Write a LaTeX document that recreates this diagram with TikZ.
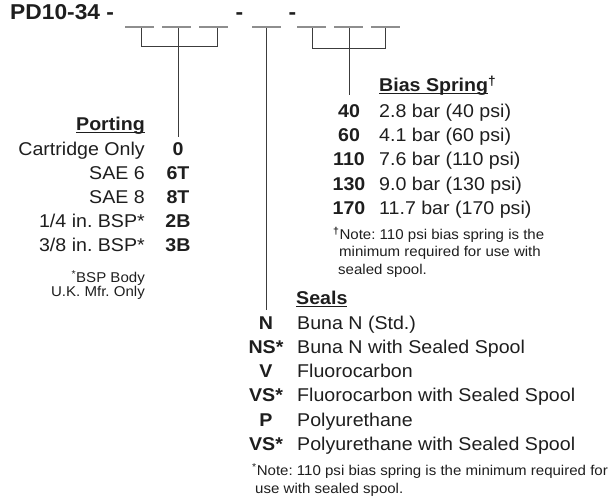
\documentclass[tikz,border=0pt]{standalone}
\usepackage{fontspec}
\setmainfont[FakeStretch=1.06]{Liberation Sans}
\usetikzlibrary{positioning}
\definecolor{blankgray}{HTML}{8E8E8E}
\definecolor{leadgray}{HTML}{3C3C3C}
\definecolor{inkgray}{HTML}{1E1E1E}
\newcommand{\hdul}[1]{\setbox0\hbox{#1}\rlap{\copy0}\rule[-2.6pt]{\wd0}{1pt}}
\frenchspacing

\begin{document}
\begin{tikzpicture}[x=1pt,y=-1pt]

\tikzset{
codeitem/.style={
inner sep=0pt,
anchor=mid,
text=inkgray,
font=\fontsize{18.5}{21}\selectfont\bfseries
},
descitem/.style={
inner sep=0pt,
anchor=mid west,
text=inkgray,
font=\fontsize{18.5}{21}\selectfont
},
headlabel/.style={
descitem,
font=\fontsize{18.5}{21}\selectfont\bfseries
},
notelabel/.style={
inner sep=0pt,
anchor=mid west,
text=inkgray,
font=\fontsize{14.2}{16}\selectfont
},
blankline/.style={
draw=blankgray,
line width=1.2pt
},
leadline/.style={
draw=leadgray,
line width=1pt
}
}

\useasboundingbox (0,0) rectangle (613,501);

%--------------------------------------------------
% MODEL CODE
%--------------------------------------------------

\node[inner sep=0pt,anchor=mid west,text=inkgray,
font=\fontsize{21.5}{24}\selectfont\bfseries] (model) at (10,17)
{PD10-34 -};

\node[codeitem,font=\fontsize{21.5}{24}\selectfont\bfseries] (dashA) at (239.5,17) {-};
\node[codeitem,font=\fontsize{21.5}{24}\selectfont\bfseries] (dashB) at (292.5,17) {-};

\foreach \xa in {125,162,199,252,297,334,371}
  \draw[blankline] (\xa,27) -- ++(29,0);

%--------------------------------------------------
% LEADERS
%--------------------------------------------------

\coordinate (p1) at (141,28);
\coordinate (p2) at (178,28);
\coordinate (p3) at (217,28);
\coordinate (portend) at (178,137);

\coordinate (s1) at (266,28);
\coordinate (sealend) at (266,310);

\coordinate (b1) at (312,28);
\coordinate (b2) at (349,28);
\coordinate (b3) at (385,28);
\coordinate (biasend) at (349,95);

\draw[leadline] (p1) -- ++(0,18) -| (p3);
\draw[leadline] (p2) -- (portend);
\draw[leadline] (s1) -- (sealend);
\draw[leadline] (b1) -- ++(0,20) -| (b3);
\draw[leadline] (b2) -- (biasend);

%--------------------------------------------------
% PORTING
%--------------------------------------------------

\node[headlabel,anchor=mid east] (porthead) at (145,128)
{\hdul{Porting}};

\node[descitem,anchor=mid east] (portA) at (145,153) {Cartridge Only};
\node[codeitem] (portAc) at (178,153) {0};

\node[descitem,anchor=mid east] (portB) at (145,177) {SAE 6};
\node[codeitem] (portBc) at (178,177) {6T};

\node[descitem,anchor=mid east] (portC) at (145,201) {SAE 8};
\node[codeitem] (portCc) at (178,201) {8T};

\node[descitem,anchor=mid east] (portD) at (145,225) {1/4 in. BSP*};
\node[codeitem] (portDc) at (178,225) {2B};

\node[descitem,anchor=mid east] (portE) at (145,249) {3/8 in. BSP*};
\node[codeitem] (portEc) at (178,249) {3B};

\node[notelabel,anchor=mid east] (portnoteA) at (145,280)
{\textsuperscript{*}BSP Body};
\node[notelabel,anchor=mid east] (portnoteB) at (145,294)
{U.K. Mfr. Only};

%--------------------------------------------------
% BIAS SPRING
%--------------------------------------------------

\node[headlabel] (biashead) at (379,89)
{\hdul{Bias Spring}\textsuperscript{†}};

\node[codeitem] (biasAc) at (349,115) {40};
\node[descitem] (biasA) at (379,115) {2.8 bar (40 psi)};

\node[codeitem] (biasBc) at (349,139) {60};
\node[descitem] (biasB) at (379,139) {4.1 bar (60 psi)};

\node[codeitem] (biasCc) at (349,163) {110};
\node[descitem] (biasC) at (379,163) {7.6 bar (110 psi)};

\node[codeitem] (biasDc) at (349,188) {130};
\node[descitem] (biasD) at (379,188) {9.0 bar (130 psi)};

\node[codeitem] (biasEc) at (349,212) {170};
\node[descitem] (biasE) at (379,212) {11.7 bar (170 psi)};

\node[notelabel] (biasnoteA) at (333,237)
{\textsuperscript{\bfseries†}Note: 110 psi bias spring is the};
\node[notelabel] (biasnoteB) at (339,254)
{minimum required for use with};
\node[notelabel] (biasnoteC) at (338,272)
{sealed spool.};

%--------------------------------------------------
% SEALS
%--------------------------------------------------

\node[headlabel] (sealhead) at (296,302)
{\hdul{Seals}};

\node[codeitem] (sealAc) at (266,327) {N};
\node[descitem] (sealA) at (297,327) {Buna N (Std.)};

\node[codeitem] (sealBc) at (266,351) {NS*};
\node[descitem] (sealB) at (297,351) {Buna N with Sealed Spool};

\node[codeitem] (sealCc) at (266,375) {V};
\node[descitem] (sealC) at (297,375) {Fluorocarbon};

\node[codeitem] (sealDc) at (266,399) {VS*};
\node[descitem] (sealD) at (297,399) {Fluorocarbon with Sealed Spool};

\node[codeitem] (sealEc) at (266,424) {P};
\node[descitem] (sealE) at (297,424) {Polyurethane};

\node[codeitem] (sealFc) at (266,448) {VS*};
\node[descitem] (sealF) at (297,448) {Polyurethane with Sealed Spool};

\node[notelabel] (sealnoteA) at (252,473)
{\textsuperscript{*}Note: 110 psi bias spring is the minimum required for};
\node[notelabel] (sealnoteB) at (255,491)
{use with sealed spool.};

\end{tikzpicture}
\end{document}
